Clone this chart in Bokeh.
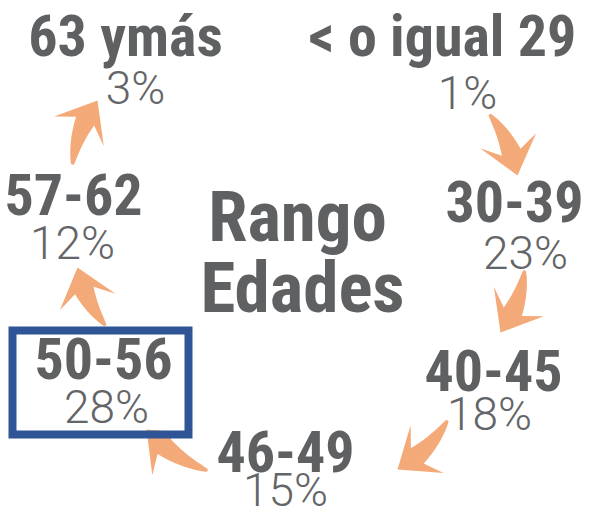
import numpy as np
from bokeh.plotting import figure
from bokeh.models import Range1d, ColumnDataSource
from bokeh.core.properties import value
from bokeh.embed import file_html
from bokeh.resources import INLINE

# ---- data ----
age_groups = ["< o igual 29", "30-39", "40-45", "46-49", "50-56", "57-62", "63 ymás"]
shares_pct = [1, 23, 18, 15, 28, 12, 3]
title_lines = ["Rango", "Edades"]
highlight = "50-56"

# ---- layout (page pixel coordinates, visual baselines) ----
label_x = [450, 522, 501, 293, 111, 81, 133]
label_y = [63, 228, 397, 478, 385, 221, 63]
pct_x = [475, 533, 497, 293, 114, 80, 143]
pct_y = [116, 276, 437, 513, 430, 266, 111]
title_x = [305, 310]
title_y = [247, 318]
# arrows: tail -> tip
arrow_tail = [(497, 122), (532, 278), (455, 428), (215, 478), (113, 333), (80, 172)]
arrow_tip = [(525, 183), (508, 340), (405, 477), (154, 437), (85, 275), (105, 108)]
box_lrtb = (20, 196, 338, 442)

LABEL_PX, PCT_PX, TITLE_PX = 58, 46, 71
BASE_SHIFT = 0.33  # renderer places "alphabetic" text lower by about this fraction of size

W, H = 585, 508
p = figure(width=W, height=H, output_backend="svg", toolbar_location=None,
           x_range=Range1d(8, 8 + W), y_range=Range1d(8 + H, 8),
           min_border=0)
p.axis.visible = False
p.grid.visible = False
p.outline_line_color = None
p.background_fill_color = "white"
p.border_fill_color = "white"


def arrow_poly(S, T, bend=0.13, head_len=36, notch=12, hw=29, w0=2.5, w1=20.0):
    S = np.array(S, float)
    T = np.array(T, float)
    d = T - S
    L = np.hypot(*d)
    du = d / L
    perp = np.array([du[1], -du[0]])
    C = (S + T) / 2 + bend * L * perp
    ts = np.linspace(0, 1, 400)
    pts = ((1 - ts)[:, None] ** 2) * S + (2 * (1 - ts) * ts)[:, None] * C + (ts[:, None] ** 2) * T
    dist = np.hypot(*(pts - T).T)
    idx = np.where(dist >= head_len - notch)[0][-1]
    ts = np.linspace(0, ts[idx], 60)
    pts = ((1 - ts)[:, None] ** 2) * S + (2 * (1 - ts) * ts)[:, None] * C + (ts[:, None] ** 2) * T
    der = 2 * (1 - ts)[:, None] * (C - S) + 2 * ts[:, None] * (T - C)
    der = der / np.hypot(*der.T)[:, None]
    nrm = np.stack([-der[:, 1], der[:, 0]], axis=1)
    frac = ts / ts[-1]
    w = w0 + (w1 - w0) * frac ** 0.8
    left = pts + nrm * (w / 2)[:, None]
    right = pts - nrm * (w / 2)[:, None]
    B = pts[-1]
    u = (T - B) / np.hypot(*(T - B))
    v = np.array([-u[1], u[0]])
    base = T - u * head_len
    bl = base + v * hw
    br = base - v * hw
    poly = np.vstack([left, [bl], [T], [br], right[::-1]])
    return list(poly[:, 0]), list(poly[:, 1])


xs, ys = [], []
for S, T in zip(arrow_tail, arrow_tip):
    ax, ay = arrow_poly(S, T)
    xs.append(ax)
    ys.append(ay)
p.patches(xs, ys, fill_color="#f4aa78", line_color=None)

# highlight box
l, r, t, b = box_lrtb
p.quad(left=[l], right=[r], top=[t], bottom=[b], fill_color=None,
       line_color="#2f5597", line_width=8, line_join="miter")

bold_font = value("Roboto Condensed, Roboto")
light_font = value("Roboto Light, Roboto")


def shifted(ys_, px):
    return [y - BASE_SHIFT * px for y in ys_]


lab_src = ColumnDataSource(dict(x=label_x, y=shifted(label_y, LABEL_PX), t=age_groups))
p.text("x", "y", text="t", source=lab_src, text_align="center", text_baseline="alphabetic",
       text_font=bold_font, text_font_style="bold", text_font_size=f"{LABEL_PX}px",
       text_color="#5f6062")

pct_src = ColumnDataSource(dict(x=pct_x, y=shifted(pct_y, PCT_PX), t=[f"{v}%" for v in shares_pct]))
p.text("x", "y", text="t", source=pct_src, text_align="center", text_baseline="alphabetic",
       text_font=light_font, text_font_style="normal", text_font_size=f"{PCT_PX}px",
       text_color="#646567")

tit_src = ColumnDataSource(dict(x=title_x, y=shifted(title_y, TITLE_PX), t=title_lines))
p.text("x", "y", text="t", source=tit_src, text_align="center", text_baseline="alphabetic",
       text_font=bold_font, text_font_style="bold", text_font_size=f"{TITLE_PX}px",
       text_color="#5f6062")

open("out.html", "w").write(file_html(p, INLINE))
